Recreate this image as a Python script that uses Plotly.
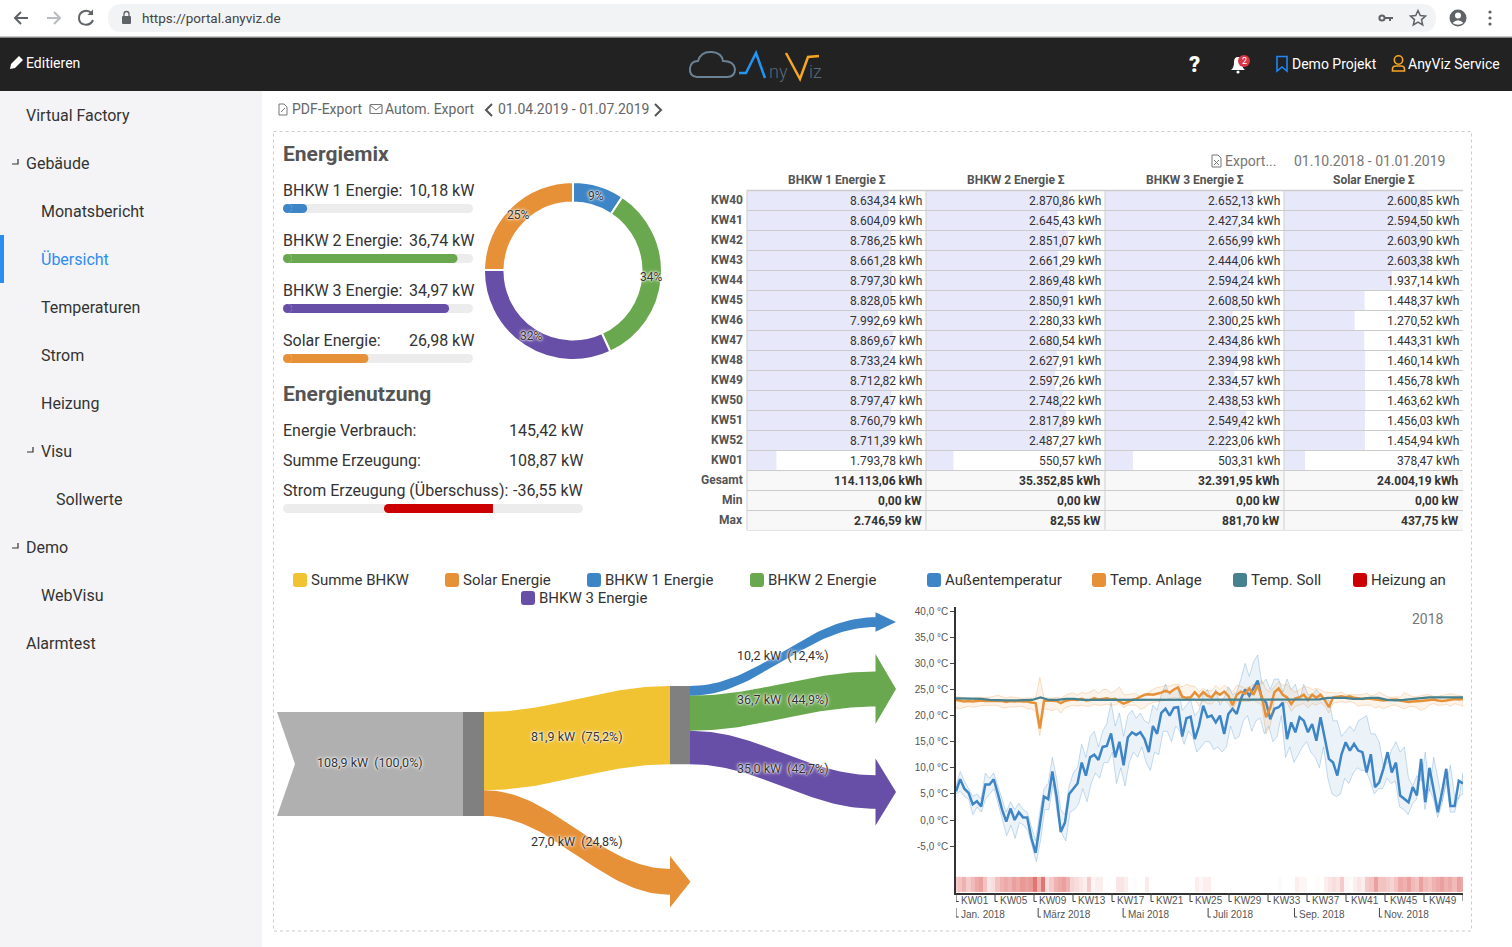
import numpy as np
import pandas as pd
import plotly.graph_objects as go

W, H = 1512, 947
FONT = "Roboto"
BLUE, GREEN, PURPLE, ORANGE = "#3d85c6", "#6aa84f", "#674ea7", "#e69138"
YELLOW, TEAL, RED = "#f1c232", "#45818e", "#cc0000"

# Energiemix
mix_names = ["BHKW 1 Energie:", "BHKW 2 Energie:", "BHKW 3 Energie:", "Solar Energie:"]
mix_values = [10.18, 36.74, 34.97, 26.98]
mix_limits = [80, 40, 40, 60]
mix_colors = [BLUE, GREEN, PURPLE, ORANGE]

# Energienutzung
use_names = ["Energie Verbrauch:", "Summe Erzeugung:", "Strom Erzeugung (Überschuss):"]
use_values = [145.42, 108.87, -36.55]

# Tabelle
weeks = ["KW40", "KW41", "KW42", "KW43", "KW44", "KW45", "KW46", "KW47", "KW48", "KW49", "KW50", "KW51", "KW52", "KW01"]
table_heads = ["BHKW 1 Energie Σ", "BHKW 2 Energie Σ", "BHKW 3 Energie Σ", "Solar Energie Σ"]
bhkw1_kwh = [8634.34, 8604.09, 8786.25, 8661.28, 8797.30, 8828.05, 7992.69, 8869.67, 8733.24, 8712.82, 8797.47, 8760.79, 8711.39, 1793.78]
bhkw2_kwh = [2870.86, 2645.43, 2851.07, 2661.29, 2869.48, 2850.91, 2280.33, 2680.54, 2627.91, 2597.26, 2748.22, 2817.89, 2487.27, 550.57]
bhkw3_kwh = [2652.13, 2427.34, 2656.99, 2444.06, 2594.24, 2608.50, 2300.25, 2434.86, 2394.98, 2334.57, 2438.53, 2549.42, 2223.06, 503.31]
solar_kwh = [2600.85, 2594.50, 2603.90, 2603.38, 1937.14, 1448.37, 1270.52, 1443.31, 1460.14, 1456.78, 1463.62, 1456.03, 1454.94, 378.47]
table_limits = [10900, 3600, 3230, 3220]
total_kwh = [114113.06, 35352.85, 32391.95, 24004.19]
min_kw = [0.0, 0.0, 0.0, 0.0]
max_kw = [2746.59, 82.55, 881.70, 437.75]

# Sankey
sankey_total = 108.9
sankey_bhkw = 81.9
sankey_solar = 27.0
sankey_units = [10.2, 36.7, 35.0]
sankey_pct = {"total": 100.0, "bhkw": 75.2, "solar": 24.8, "units": [12.4, 44.9, 42.7]}

aussen_mean = [5.5, 7.8, 6, 5.2, 3, 3.6, 2.6, 6.8, 6.8, 7.8, 5, 2, -0.3, 2.2, 0, 1.5, 0.5, 0.5, -3.5, -6.3, -1, 4.5, 4, 9.3, 4.5, -2.3, -0.5, 5, 6, 7, 11, 8.5, 12, 12.5, 11.5, 14, 14.2, 16.6, 12, 15, 10.5, 15.8, 16.8, 16.3, 16.8, 15.5, 13, 18, 16.5, 20.5, 21.3, 20, 21.5, 21.6, 16, 19.5, 19.8, 15.5, 18,
               21.9, 19.7, 20, 18.7, 20, 16.5, 20.3, 21.3, 20.3, 23.2, 25, 23.8, 25.4, 26.7, 23.2, 22.5, 19.3, 21.3, 21.6, 22.5, 15.5, 18.7, 16.8, 19.7, 19, 16.8, 18.4, 15.2, 19.7, 15.5, 11.7, 11, 8.5, 12.6, 14.9, 13.3, 14.6, 13.3, 13, 9.1, 12.6, 6.3, 7.2, 9.8, 13, 9.1, 11, 4.7, 4, 3.4, 6.3, 4.7, 11.7, 3.4, 10, 6, 1.5, 5.3, 9.8, 2.7, 2.7, 7.5, 7]
aussen_max = [6.5, 9.3, 7.5, 6, 4.5, 5, 4, 9, 8, 9, 6.5, 4, 1.5, 3.5, 2, 3.2, 2, 1.5, -1.5, -4, 1.5, 6, 7, 12, 8, 2, 1, 6.5, 9, 10, 14.5, 12, 16, 17, 14, 17, 18.5, 22.5, 18, 20.5, 16, 20, 21, 19.5, 20.5, 19, 18.5, 22, 21, 24, 26, 24, 25, 25.5, 21, 22, 23, 20, 21,
              24, 25, 23, 25, 22, 23.5, 25.5, 24, 24.5, 27, 30, 27.5, 30.3, 31.6, 26, 27, 25, 27, 27, 24.5, 27, 25, 26, 23, 26, 24, 24, 25, 24, 23, 23, 19, 19, 16, 17, 18, 17, 19, 19.5, 20, 16.5, 16.5, 15, 10.5, 11, 13.5, 15, 13, 14, 8, 6.5, 8.5, 7.5, 13, 5.5, 12, 8, 3.5, 7, 10.5, 4.5, 4, 9]
aussen_min = [5, 5.5, 4.5, 4, 1, 2.5, 1.5, 4, 5, 6, 3.5, 0, -3, -1, -3.5, -0.5, -1, -2, -5, -8, -4, 2, 2, 7, 1, -2.5, -4, 1.5, 2, 3, 6, 3.5, 7, 9, 8, 11, 11, 13, 7, 10, 6.5, 11, 13, 12, 14, 11, 9.5, 13, 12.5, 17, 17, 15, 18, 17, 14.5, 17, 16, 13, 14,
              15, 15, 13.5, 14, 13, 14, 18, 15.5, 16, 19, 20, 17, 19, 19.5, 16.5, 18, 15, 16, 20, 12, 14, 11, 12.5, 14, 15, 13, 12, 10, 14, 8, 5, 4.5, 5, 8, 7, 9, 10, 9.5, 9.5, 7.5, 5, 6, 6, 8, 7, 7.5, 2.5, 2, 1, 3, 4, 9, 2, 6, 4, 0.5, 3, 7.5, 1.5, 1.5, 4.5, 5]

anlage_mean = [23, 22.9, 22.7, 22.8, 22.7, 22.8, 22.9, 22.8, 22.8, 22.9, 22.8, 22.8, 22.6, 22.8, 22.7, 22.8, 22.7, 22.7, 22.5, 22.4, 17.5,
               22.8, 22.9, 22.9, 22.8, 22.4, 22.8, 23, 23.1, 23, 23.2, 22.9, 23, 23.3, 23.1, 23.2, 23.3, 23.1, 23.2, 22.7, 22.3, 22.6,
               23, 23.2, 23.6, 24, 24.1, 24, 24.2, 24.4, 24.8, 24.4, 25, 25.4, 23.6, 23.4, 23.5, 24.5, 23.6, 24.5, 23.8, 23.5, 24.5, 24, 24.6, 23.8,
               22, 24, 24.6, 24.2, 25.2, 24, 25.8, 23.5, 19.7, 21.5, 24.5, 25.2, 24, 23.5, 22.2, 23.3, 23.5, 24, 23, 24, 23.4, 24, 23, 21.6,
               23.5, 23.6, 23.7, 23.5, 23.7, 23.4, 23.3, 23.2, 23.3, 23.2, 23.2, 23, 22.9, 23, 23.1, 23.1, 22.9, 22.8, 22.6, 22.7, 22.7,
               22.8, 22.9, 23, 23.1, 22.9, 22.8, 22.9, 23.1, 23.2, 23.1, 23.2]
anlage_max = [23.6, 23.5, 23.4, 23.4, 23.3, 23.5, 23.5, 23.6, 23.5, 23.7, 23.9, 23.6, 23.4, 23.6, 23.5, 23.5, 23.3, 23.4, 23.3, 23.3, 27.3, 23.4, 23.4, 23.3, 23.5, 23.3, 23.8, 24.2, 24.3, 23.9, 24.5, 24.2, 24.5, 25, 24.2, 25, 25, 24.3, 24.8, 25.5, 24, 24, 24.2, 24.2, 23.6, 24, 24.5, 25, 25.4, 25.5, 25.8, 25.6, 26, 26, 25.5, 26, 25.7, 25.6,
              24.6, 25.2, 24.8, 24.7, 25.8, 25, 25.8, 25.3, 24.5, 25.8, 25.6, 25.2, 25.5, 26, 25, 26.8, 25, 24.6, 25.5, 26.5, 25.8, 26, 25, 24.5, 25, 25.5, 25.5, 25, 25.2, 25, 24.5, 24.4, 24.4, 24.3, 24.5, 24, 24, 24, 24, 24, 24.3, 23.8, 24, 24.5, 24, 23.6, 23.5, 23.6, 23.5, 24.4, 24, 23.6, 23.6, 23.8, 24, 24, 23.7, 23.7, 23.9, 24, 24.2, 24, 23.8, 23.7]
anlage_min = [21.5, 21.3, 21.5, 21.8, 21.6, 21.8, 21.9, 22, 21.9, 22, 21.9, 21.5, 21.5, 21.7, 21.6, 21.8, 21.7, 21.3, 21.3, 20.8, 16.2, 21.3, 21.2, 21, 21.3, 20.5, 21.5, 21.7, 22, 21.8, 22, 21.8, 21.8, 22.2, 22, 22, 22.2, 22, 22, 22.5, 21.5, 22, 22, 22, 21.2, 21.5, 22.2, 22.5, 22.7, 22.8, 23, 23.2, 23.5, 23.3, 23.4, 22.8, 23.3, 23.2,
              21.8, 22.8, 22.3, 22.2, 23, 22.5, 23, 22.3, 21, 22.7, 22.7, 22.7, 22.7, 23, 22.5, 22, 16.5, 18, 23, 23.5, 22.5, 22.5, 20.8, 21.8, 22, 22.3, 21.5, 22.3, 22, 22.5, 21.8, 20.5, 22.4, 22.6, 22.7, 22.5, 22.7, 22.4, 21.8, 22, 22, 22, 21.5, 21.7, 21.3, 21.6, 22, 22, 21.6, 21.3, 21.7, 21.8, 21.5, 21, 21.3, 22, 22.3, 22, 22, 22.2, 21.8, 22.3, 22, 21.8]
soll_temp = [23.3, 23.3, 23.2, 23.2, 23.0, 22.9, 22.9, 22.9, 22.9, 23.0, 23.5, 23.0, 23.0, 23.2, 23.2, 23.0, 23.0, 23.0, 23.0, 23.0, 23.0, 23.0, 23.0, 23.0, 23.0, 23.0, 23.0, 23.0, 23.0, 23.0, 23.0, 23.0, 23.0, 23.0, 23.0, 23.0, 23.0, 23.0, 23.0, 23.0, 23.0, 23.0, 23.0, 23.1, 23.4, 23.4, 23.4, 23.2, 23.2, 23.4, 23.4, 23.0, 22.9, 23.0, 23.2, 23.4, 23.5, 23.5, 23.5, 23.5, 23.5]
heizung = [0.3, 0.35, 0.45, 0.3, 0.4, 0.5, 0.55, 0.35, 0.15, 0.2, 0.35, 0.45, 0.5, 0.45, 0.55, 0.5, 0.6, 0.55, 0.6, 0.8, 0.45, 0.8, 0.2, 0.3, 0.45, 0.5, 0.55, 0.45, 0.25, 0.2, 0.15, 0.1, 0.3, 0.05, 0.1, 0.1, 0, 0, 0, 0.15, 0.15, 0.1, 0, 0.02, 0, 0, 0.12, 0, 0, 0, 0, 0, 0, 0, 0, 0, 0, 0, 0.1,
           0.05, 0.1, 0.1, 0, 0, 0, 0, 0, 0, 0, 0, 0, 0, 0, 0, 0, 0, 0, 0, 0.03, 0, 0, 0, 0.1, 0.05, 0.05, 0, 0, 0.02, 0, 0.1, 0.15, 0.2, 0.15, 0.3, 0.05, 0.02, 0.1, 0.15, 0.1, 0.3, 0.35, 0.55, 0.35, 0.35, 0.3, 0.25, 0.35, 0.5, 0.45, 0.55, 0.4, 0.35, 0.55, 0.4, 0.35, 0.45, 0.5, 0.55, 0.45, 0.5, 0.4, 0.55, 0.5]
temp_ticks = [40, 35, 30, 25, 20, 15, 10, 5, 0, -5]
kw_ticks = ["KW01", "KW05", "KW09", "KW13", "KW17", "KW21", "KW25", "KW29", "KW33", "KW37", "KW41", "KW45", "KW49"]
kw_dates = ["2018-01-01", "2018-01-29", "2018-02-26", "2018-03-26", "2018-04-23", "2018-05-21", "2018-06-18", "2018-07-16", "2018-08-13", "2018-09-10", "2018-10-08", "2018-11-05", "2018-12-03"]
month_ticks = ["Jan. 2018", "März 2018", "Mai 2018", "Juli 2018", "Sep. 2018", "Nov. 2018"]
month_dates = ["2018-01-01", "2018-03-01", "2018-05-01", "2018-07-01", "2018-09-01", "2018-11-01"]

nav_items = [("Virtual Factory", 26, 0), ("Gebäude", 26, 12), ("Monatsbericht", 41, 0), ("Übersicht", 41, 0), ("Temperaturen", 41, 0), ("Strom", 41, 0), ("Heizung", 41, 0),
             ("Visu", 41, 27), ("Sollwerte", 56, 0), ("Demo", 26, 12), ("WebVisu", 41, 0), ("Alarmtest", 26, 0)]


def de(v, dec=2):
    s = f"{v:,.{dec}f}"
    return s.replace(",", "#").replace(".", ",").replace("#", ".")


def dom_x(a, b):
    return [a / W, b / W]


def dom_y(a, b):
    return [1 - b / H, 1 - a / H]


shapes = []
notes = []


def text(x, y, s, size=14, color="#333", anchor="left", weight=400, family=FONT, xref="x", yref="y", shadow=None):
    font = dict(family=family, size=size, color=color, weight=weight)
    if shadow:
        font["shadow"] = shadow
    shift = {"left": -1, "right": 1, "center": 0}[anchor]
    notes.append(dict(x=x, y=y, xref=xref, yref=yref, text=s, showarrow=False, xanchor=anchor, yanchor="middle", xshift=shift, font=font, borderpad=0))


def rect(x0, y0, x1, y1, fill, layer="below"):
    shapes.append(dict(type="rect", x0=x0, y0=y0, x1=x1, y1=y1, xref="x", yref="y", fillcolor=fill, line_width=0, layer=layer))


def hline(x0, x1, y, color, width=1, layer="above"):
    shapes.append(dict(type="line", x0=x0, x1=x1, y0=y, y1=y, xref="x", yref="y", line=dict(color=color, width=width), layer=layer))


def path(d, fill=None, color=None, width=1.5, layer="above"):
    shapes.append(dict(type="path", path=d, xref="x", yref="y", fillcolor=fill or "rgba(0,0,0,0)",
                       line=dict(color=color or "rgba(0,0,0,0)", width=width if color else 0), layer=layer))


def rrect(x0, y0, x1, y1, r):
    return (f"M{x0+r},{y0} L{x1-r},{y0} Q{x1},{y0} {x1},{y0+r} L{x1},{y1-r} Q{x1},{y1} {x1-r},{y1} "
            f"L{x0+r},{y1} Q{x0},{y1} {x0},{y1-r} L{x0},{y0+r} Q{x0},{y0} {x0+r},{y0} Z")


def circle(cx, cy, r, fill=None, color=None, width=1.5):
    shapes.append(dict(type="circle", x0=cx - r, x1=cx + r, y0=cy - r, y1=cy + r, xref="x", yref="y",
                       fillcolor=fill or "rgba(0,0,0,0)", line=dict(color=color or "rgba(0,0,0,0)", width=width if color else 0), layer="above"))


fig = go.Figure()

# Browser und Kopfzeile
rect(0, 36, W, 37.5, "#c9c9c9")
rect(0, 37.5, W, 91, "#222222")
path(rrect(108, 4, 1436, 32, 14), fill="#f1f3f4", layer="below")
path("M28,18 L15,18 M21,12 L15,18 L21,24", color="#5f6368", width=2)
path("M47,18 L60,18 M54,12 L60,18 L54,24", color="#b8bbbf", width=2)
path("M91.5,13 C87,8.5 79,11 79,18 C79,26 90,27 93,20", color="#5f6368", width=2)
path("M93,9.5 L93,15 L87.5,15 Z", fill="#5f6368")
path(rrect(122, 16, 131, 24, 1), fill="#5f6368")
path("M124,16 L124,14 Q124,11.5 126.5,11.5 Q129,11.5 129,14 L129,16", color="#5f6368", width=1.3)
text(142, 18, "https://portal.anyviz.de", 13.5, "#444")
circle(1382, 18, 2.6, color="#5f6368", width=2)
path("M1385,18 L1393,18 M1390,18 L1390,21", color="#5f6368", width=2)
path("M1418,10.5 L1420.3,15.6 L1425.5,16.1 L1421.5,19.6 L1422.7,25 L1418,22.2 L1413.3,25 L1414.5,19.6 L1410.5,16.1 L1415.7,15.6 Z", color="#5f6368", width=1.5)
circle(1458, 18, 8.5, fill="#5f6368")
circle(1458, 15.5, 3, fill="#ffffff")
path("M1452.5,23 Q1458,17.5 1463.5,23 Q1458,26.5 1452.5,23 Z", fill="#ffffff")
for yy in (12, 18, 24):
    circle(1490, yy, 1.6, fill="#5f6368")

path("M10,69 L11,64 L19,56 L23,60 L15,68 Z", fill="#ffffff")
text(26, 63, "Editieren", 14, "#ffffff")
path("M697,77 Q689,76 690,68 Q691,61 698,61 Q701,51 712,52 Q722,53 723,61 Q734,61 735,69 Q735,77 727,77 Z", color="#6b8294", width=2)
path("M739,73 L746,73 L756,53 L765,78", color="#2196f3", width=2.5)
text(769, 71, "ny", 18, "#56697a", weight=300)
path("M786,53 L800,79 L808,57 L819,56", color="#f5a623", width=2.5)
text(809, 71, "iz", 18, "#56697a", weight=300)
text(1194, 64, "?", 22, "#ffffff", "center", 900)
path("M1231,70 Q1234,68 1234,62 Q1234,57 1238,57 Q1242,57 1242,62 Q1242,68 1245,70 Z", fill="#ffffff")
circle(1238, 72, 1.6, fill="#ffffff")
circle(1244, 61, 6, fill="#dc3545")
text(1244, 61, "2", 9, "#ffffff", "center")
path("M1277,56.5 L1287,56.5 L1287,71 L1282,67 L1277,71 Z", color="#1e88f5", width=1.6)
text(1292, 64, "Demo Projekt", 14, "#ffffff")
circle(1398.5, 60, 4.2, color="#f5a623", width=1.6)
path("M1392.5,71 L1392.5,69 Q1392.5,66 1396,66 L1401,66 Q1404.5,66 1404.5,69 L1404.5,71 Z", color="#f5a623", width=1.6)
text(1408, 64, "AnyViz Service", 14, "#ffffff")

# Navigation
rect(0, 91, 262, H, "#f4f4f6")
rect(0, 235, 4, 283, "#2d8cf0")
for i, (name, indent, mark) in enumerate(nav_items):
    yy = 115 + 48 * i
    active = name == "Übersicht"
    text(indent, yy, name, 16, "#2d8cf0" if active else "#333")
    if mark:
        path(f"M{mark},{yy+1} L{mark+6},{yy+1} L{mark+6},{yy-4}", color="#333", width=1.2)

# Werkzeugleiste
path("M279,104 L284,104 L287,107 L287,115 L279,115 Z M281,112 L285,108", color="#777", width=1)
text(292, 109, "PDF-Export", 14, "#666")
path(rrect(370, 104.5, 382, 113.5, 1), color="#777", width=1.2)
path("M370,105 L376,110 L382,105", color="#777", width=1)
text(385, 109, "Autom. Export", 14, "#666")
path("M492,104 L486,110 L492,116", color="#555", width=2)
text(498, 109, "01.04.2019 - 01.07.2019", 14, "#666")
path("M655,104 L661,110 L655,116", color="#555", width=2)

# Rahmen
shapes.append(dict(type="rect", x0=273.5, x1=1471.5, y0=131.5, y1=931, xref="x", yref="y",
                   line=dict(color="#cccccc", width=1, dash="dot"), layer="below"))

text(283, 154, "Energiemix", 21, "#555", weight=700)
text(283, 394, "Energienutzung", 21, "#555", weight=700)


def round_bar(ys, bar_color, lo, hi, rad, xa, ya, width, size):
    # Balken plus Kreise an den Enden, damit beide Seiten rund sind
    fig.add_trace(go.Bar(x=[h - l - 2 * rad for l, h in zip(lo, hi)], y=ys, base=[l + rad for l in lo], orientation="h", width=width,
                         marker=dict(color=bar_color, line_width=0), xaxis=xa, yaxis=ya, hoverinfo="skip"))
    cols = bar_color if isinstance(bar_color, list) else [bar_color] * len(ys)
    fig.add_trace(go.Scatter(x=[l + rad for l in lo] + [h - rad for h in hi], y=list(ys) * 2, mode="markers",
                             marker=dict(color=cols * 2, size=size, line_width=0), xaxis=xa, yaxis=ya, hoverinfo="skip", showlegend=False))


# Fortschrittsbalken Energiemix
rows = list(range(len(mix_values)))
frac = [v / m for v, m in zip(mix_values, mix_limits)]
rad_mix = 4.5 / 190
round_bar(rows, "#ececec", [0] * 4, [1] * 4, rad_mix, "x2", "y2", 0.18, 9)
round_bar(rows, mix_colors, [0] * 4, frac, rad_mix, "x2", "y2", 0.18, 9)
for i, (n, v) in enumerate(zip(mix_names, mix_values)):
    text(283, 190 + 50 * i, n, 16)
    text(474, 190 + 50 * i, de(v) + " kW", 16, anchor="right")

# Energienutzung
for i, (n, v) in enumerate(zip(use_names, use_values)):
    text(283, 430 + 30 * i, n, 16)
    text(583, 430 + 30 * i, de(v) + " kW", 16, anchor="right")
strom_lo, strom_hi = -70.4, 30.2
rad_strom = 4.5 * (strom_hi - strom_lo) / 300
round_bar([0], "#ececec", [strom_lo], [strom_hi], rad_strom, "x3", "y3", 1, 9)
fig.add_trace(go.Bar(x=[use_values[2] + rad_strom], y=[0], orientation="h", width=1,
                     marker=dict(color=RED, line_width=0), xaxis="x3", yaxis="y3", hoverinfo="skip"))
fig.add_trace(go.Scatter(x=[use_values[2] + rad_strom], y=[0], mode="markers", marker=dict(color=RED, size=9, line_width=0),
                         xaxis="x3", yaxis="y3", hoverinfo="skip", showlegend=False))

# Donut
fig.add_trace(go.Pie(values=mix_values, labels=mix_names, sort=False, direction="clockwise", rotation=0, hole=0.77,
                     textinfo="none", marker=dict(colors=mix_colors, line=dict(color="#ffffff", width=2)),
                     domain=dict(x=dom_x(484, 662), y=dom_y(182, 360)), showlegend=False, hoverinfo="skip"))
halo = "0 0 2px #ffffff, 0 0 2px #ffffff, 0 0 4px #ffffff"
cum = 0.0
for v in mix_values:
    share = v / sum(mix_values)
    ang = 2 * np.pi * (cum + share / 2)
    text(573 + 78 * np.sin(ang), 271 - 78 * np.cos(ang), f"{share*100:.0f}%", 12, "#333", "center", shadow=halo)
    cum += share

# Tabelle
col_x = [747, 926, 1105, 1284, 1463]
table_series = [bhkw1_kwh, bhkw2_kwh, bhkw3_kwh, solar_kwh]
rect(747, 471, 1463, 530, "#f8f8f8")
for c, series in enumerate(table_series):
    ax = c + 4
    fig.add_trace(go.Bar(x=series, y=weeks, orientation="h", width=1, marker=dict(color="#e8e8fb", line_width=0),
                         xaxis=f"x{ax}", yaxis=f"y{ax}", hoverinfo="skip"))
    text((col_x[c] + col_x[c + 1]) / 2, 180, table_heads[c], 12, "#555", "center", 700)
    for r, v in enumerate(series):
        text(col_x[c + 1] - 4, 200.5 + 20 * r, de(v) + " kWh", 12, "#333", "right")
    text(col_x[c + 1] - 4, 480.5, de(total_kwh[c]) + " kWh", 12, "#333", "right", 700)
    text(col_x[c + 1] - 4, 500.5, de(min_kw[c]) + " kW", 12, "#333", "right", 700)
    text(col_x[c + 1] - 4, 520.5, de(max_kw[c]) + " kW", 12, "#333", "right", 700)
for r, w in enumerate(weeks + ["Gesamt", "Min", "Max"]):
    text(743, 200 + 20 * r, w, 12, "#555", "right", 700)
    hline(747, 1463, 190.5 + 20 * r, "#cccccc", 1.5 if r == 0 else 1)
hline(747, 1463, 530.5, "#e4e4e4", 1)
for xx in col_x[:-1]:
    shapes.append(dict(type="line", x0=xx, x1=xx, y0=190, y1=530, xref="x", yref="y", line=dict(color="#cfcfcf", width=1), layer="above"))
path("M1212,155 L1218,155 L1221,158 L1221,167 L1212,167 Z M1214,160 L1219,165 M1219,160 L1214,165", color="#777", width=1)
text(1225, 161, "Export...", 14, "#777")
text(1294, 161, "01.10.2018 - 01.01.2019", 14, "#777")

# Legenden
left_legend = [("Summe BHKW", YELLOW, 293, 573), ("Solar Energie", ORANGE, 445, 573), ("BHKW 1 Energie", BLUE, 587, 573), ("BHKW 2 Energie", GREEN, 750, 573), ("BHKW 3 Energie", PURPLE, 521, 591)]
right_legend = [("Außentemperatur", BLUE, 927, 573), ("Temp. Anlage", ORANGE, 1092, 573), ("Temp. Soll", TEAL, 1233, 573), ("Heizung an", RED, 1353, 573)]
for name, col, xx, yy in left_legend + right_legend:
    path(rrect(xx, yy, xx + 14, yy + 14, 3), fill=col, layer="below")
    text(xx + 18, yy + 7, name, 15, "#333")

# Sankey
KW_PX = 0.955
SX, SY = "x8", "y8"


def poly(xs, ys, color):
    fig.add_trace(go.Scatter(x=xs, y=ys, mode="lines", fill="toself", fillcolor=color, line=dict(width=0, color=color),
                             xaxis=SX, yaxis=SY, hoverinfo="skip", showlegend=False))


def ribbon(x0, top0, x1, top1, thick, color, arrow=None, arrow_len=20.5):
    t = np.linspace(0, 1, 50)
    c0, c1 = x0 + 0.38 * (x1 - x0), x1 - 0.38 * (x1 - x0)
    bx = (1 - t) ** 3 * x0 + 3 * (1 - t) ** 2 * t * c0 + 3 * (1 - t) * t ** 2 * c1 + t ** 3 * x1
    by = (1 - t) ** 3 * top0 + 3 * (1 - t) ** 2 * t * top0 + 3 * (1 - t) * t ** 2 * top1 + t ** 3 * top1
    xs = list(bx)
    ys = list(by)
    if arrow:
        xs += [x1, x1 + arrow_len, x1, x1]
        ys += [top1 - thick / 2, top1 + thick / 2, top1 + 1.5 * thick, top1 + thick]
    xs += list(bx[::-1])
    ys += list(by[::-1] + thick)
    poly(xs, ys, color)


y_bhkw_left = 27.2
y_solar_left = y_bhkw_left + sankey_bhkw
poly([277, 463, 463, 277, 295, 277], [y_bhkw_left, y_bhkw_left, y_bhkw_left + sankey_total, y_bhkw_left + sankey_total, y_bhkw_left + sankey_total / 2, y_bhkw_left], "#b0b0b0")
poly([463, 484, 484, 463, 463], [y_bhkw_left, y_bhkw_left, y_bhkw_left + sankey_total, y_bhkw_left + sankey_total, y_bhkw_left], "#808080")
ribbon(484, y_bhkw_left, 670, 0, sankey_bhkw, YELLOW)
poly([670, 690, 690, 670, 670], [0, 0, sankey_bhkw, sankey_bhkw, 0], "#808080")
ribbon(484, y_solar_left, 670, 191.5, sankey_solar, ORANGE, arrow=True)
unit_tops = np.cumsum([0] + sankey_units[:-1])
unit_ends = [-72.1, -15.2, 93.5]
for top, end, val, col in zip(unit_tops, unit_ends, sankey_units, [BLUE, GREEN, PURPLE]):
    ribbon(690, top, 875.5, end, val, col, arrow=True)


def slabel(x, y, val, pct):
    text(x, y - 1.2, f"{de(val,1)} kW\u00a0\u00a0({de(pct,1)}%)", 12.5, "#333", "center", xref=SX, yref=SY, shadow=halo)


slabel(370, y_bhkw_left + sankey_total / 2, sankey_total, sankey_pct["total"])
slabel(577, (y_bhkw_left + 0) / 2 + sankey_bhkw / 2, sankey_bhkw, sankey_pct["bhkw"])
slabel(577, (y_solar_left + 191.5) / 2 + sankey_solar / 2, sankey_solar, sankey_pct["solar"])
for top, end, val, pct in zip(unit_tops, unit_ends, sankey_units, sankey_pct["units"]):
    slabel(783, (top + end) / 2 + val / 2, val, pct)


# Temperaturen
def days(arr):
    return pd.date_range("2018-01-01", "2018-12-31", periods=len(arr))


fig.add_trace(go.Heatmap(x=days(heizung), y=[-13.8, -10.9], z=[heizung], zmin=0, zmax=1.0, showscale=False,
                         colorscale=[[0, "#ffffff"], [1, "#d9534f"]], xaxis="x9", yaxis="y9", hoverinfo="skip"))
bands = [(aussen_min, aussen_mean, aussen_max, "61,133,198"), (anlage_min, anlage_mean, anlage_max, "230,145,56")]
for lo, mid, hi, rgb in bands:
    fig.add_trace(go.Scatter(x=list(days(hi)) + list(days(lo))[::-1], y=hi + lo[::-1], mode="lines", fill="toself",
                             fillcolor=f"rgba({rgb},0.1)", line=dict(color=f"rgba({rgb},0.28)", width=1),
                             xaxis="x9", yaxis="y9", hoverinfo="skip", showlegend=False))
    fig.add_trace(go.Scatter(x=days(mid), y=mid, mode="lines", line=dict(color=f"rgb({rgb})", width=2.5),
                             xaxis="x9", yaxis="y9", hoverinfo="skip", showlegend=False))
fig.add_trace(go.Scatter(x=days(soll_temp), y=soll_temp, mode="lines", line=dict(color=TEAL, width=2.2),
                         xaxis="x9", yaxis="y9", hoverinfo="skip", showlegend=False))


def date_tick(date, y0, y1, label_y, label):
    d = pd.Timestamp(date)
    foot = (d + pd.Timedelta(days=2)).strftime("%Y-%m-%d")
    shapes.append(dict(type="path", path=f"M{date},{y0} L{date},{y1} L{foot},{y1}", xref="x9", yref="y",
                       line=dict(color="#444", width=1), layer="above"))
    notes.append(dict(x=date, y=label_y, xref="x9", yref="y", text=label, showarrow=False, xanchor="left", xshift=3,
                      yanchor="middle", font=dict(family="Liberation Sans", size=10, color="#555")))


for d, lab in zip(kw_dates, kw_ticks):
    date_tick(d, 893, 901.5, 900.5, lab)
shapes.append(dict(type="line", x0="2018-12-31", x1="2018-12-31", y0=893, y1=901, xref="x9", yref="y", line=dict(color="#444", width=1), layer="above"))
for d, lab in zip(month_dates, month_ticks):
    date_tick(d, 908, 917, 914.5, lab)
text(1428, 619, "2018", 14, "#777", "center")

hidden = dict(visible=False, fixedrange=True)
fig.update_layout(
    width=W, height=H, autosize=False, margin=dict(l=0, r=0, t=0, b=0, pad=0),
    paper_bgcolor="#ffffff", plot_bgcolor="rgba(0,0,0,0)", showlegend=False, barmode="overlay", hovermode=False,
    font=dict(family=FONT),
    shapes=shapes, annotations=notes,
    xaxis=dict(range=[0, W], domain=[0, 1], **hidden),
    yaxis=dict(range=[H, 0], domain=[0, 1], **hidden),
    xaxis2=dict(range=[0, 1], domain=dom_x(283, 473), anchor="y2", **hidden),
    yaxis2=dict(range=[3.5, -0.5], domain=dom_y(183.5, 383.5), anchor="x2", **hidden),
    xaxis3=dict(range=[strom_lo, strom_hi], domain=dom_x(283, 583), anchor="y3", **hidden),
    yaxis3=dict(range=[-0.5, 0.5], domain=dom_y(504, 513), anchor="x3", **hidden),
    xaxis8=dict(range=[277, 896], domain=dom_x(277, 896), anchor="y8", **hidden),
    yaxis8=dict(range=[(915 - 686) / KW_PX, (600 - 686) / KW_PX], domain=dom_y(600, 915), anchor="x8", **hidden),
    xaxis9=dict(type="date", range=["2018-01-01", "2018-12-31"], domain=dom_x(956, 1463), anchor="y9", showline=True,
                linecolor="#333", linewidth=1.5, ticks="", showticklabels=False, showgrid=False, zeroline=False, fixedrange=True),
    yaxis9=dict(range=[(820 - 893) / 5.22, (820 - 607) / 5.22], domain=dom_y(607, 893), anchor="x9", showline=True,
                linecolor="#333", linewidth=1.5, ticks="outside", ticklen=4, tickcolor="#444", tickwidth=1,
                tickvals=temp_ticks, ticktext=[de(t, 1) + " °C" for t in temp_ticks],
                tickfont=dict(family="Liberation Sans", size=10, color="#555"), showgrid=False, zeroline=False, fixedrange=True),
)
for c in range(4):
    ax = c + 4
    fig.update_layout({
        f"xaxis{ax}": dict(range=[0, table_limits[c]], domain=dom_x(col_x[c], col_x[c + 1]), anchor=f"y{ax}", **hidden),
        f"yaxis{ax}": dict(type="category", categoryorder="array", categoryarray=weeks, autorange="reversed",
                           domain=dom_y(191, 471), anchor=f"x{ax}", **hidden),
    })

fig.write_html("out.html", config=dict(displayModeBar=False),
               post_script="document.body.style.margin='0';document.body.style.overflow='hidden';")
